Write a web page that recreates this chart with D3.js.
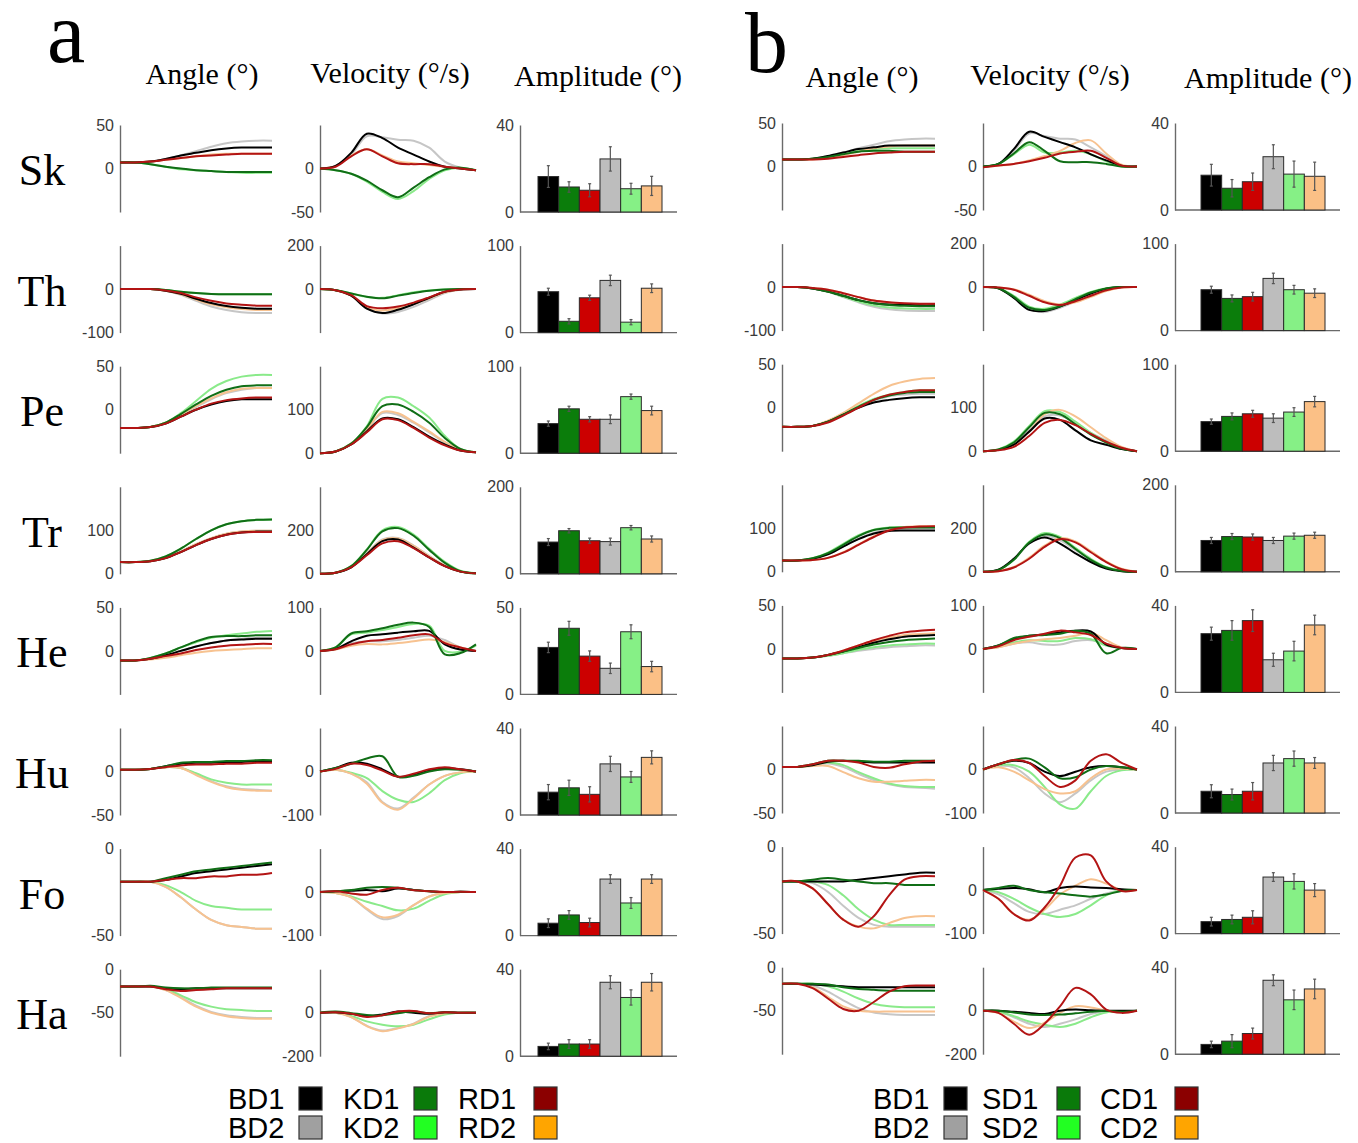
<!DOCTYPE html>
<html>
<head>
<meta charset="utf-8">
<script src="https://cdn.jsdelivr.net/npm/d3@7"></script>
<style>
  body { margin: 0; background: #fff; }
</style>
</head>
<body>
<div id="fig"></div>
<script>
// rows (body segments) and series, bar order = series order
const rows = ["Sk", "Th", "Pe", "Tr", "He", "Hu", "Fo", "Ha"];
const seriesA = ["BD1", "KD1", "RD1", "BD2", "KD2", "RD2"];
const seriesB = ["BD1", "SD1", "CD1", "BD2", "SD2", "CD2"];
const titles = ["Angle (°)", "Velocity (°/s)", "Amplitude (°)"];

// y domains and tick labels per row
const angleDomain = [[-50, 50], [-100, 100], [-50, 50], [0, 200], [-50, 50], [-50, 50], [-50, 0], [-100, 0]];
const angleTicks = [[0, 50], [-100, 0], [0, 50], [0, 100], [0, 50], [-50, 0], [-50, 0], [-50, 0]];
const velDomain = [[-50, 50], [-200, 200], [0, 200], [0, 400], [-100, 100], [-100, 100], [-100, 100], [-200, 200]];
const velTicks = [[-50, 0], [0, 200], [0, 100], [0, 200], [0, 100], [-100, 0], [-100, 0], [-200, 0]];
const ampMaxA = [40, 100, 100, 200, 50, 40, 40, 40];
const ampMaxB = [40, 100, 100, 200, 40, 40, 40, 40];

// mean traces, 11 samples over the movement, one array per series
const angleA = [
  [[7,7,8,11,15,18,21,23,24,24,24],[7,7,5,2,0,-2,-3,-4,-4,-4,-4],[7,7,8,10,12,14,15,16,17,17,17],
   [7,7,8,11,15,20,25,29,31,32,32],[7,7,5,2,-1,-2,-3,-4,-5,-5,-5],[7,7,8,10,12,14,16,17,17,17,17]],
  [[0,0,0,-4,-11,-22,-32,-39,-43,-45,-45],[0,0,0,-2,-6,-9,-11,-12,-12,-12,-12],[0,0,0,-3,-9,-19,-27,-33,-36,-38,-38],
   [0,0,0,-4,-13,-27,-40,-48,-53,-55,-55],[0,0,0,-2,-6,-9,-11,-12,-12,-12,-12],[0,0,0,-4,-12,-24,-35,-42,-46,-48,-48]],
  [[-21,-21,-20,-16,-8,0,6,10,12,12,12],[-21,-21,-20,-15,-5,6,16,23,27,28,28],[-21,-21,-20,-16,-8,0,7,11,13,14,14],
   [-21,-21,-20,-15,-6,3,12,19,23,25,25],[-21,-21,-20,-15,-4,10,24,33,38,40,40],[-21,-21,-20,-15,-6,4,13,20,24,25,25]],
  [[27,27,29,36,50,66,80,90,95,97,97],[27,27,30,40,58,80,100,114,121,124,125],[27,27,29,36,50,66,80,90,95,96,96],
   [27,27,29,36,52,68,82,92,97,99,99],[27,27,30,40,58,80,100,114,121,124,125],[27,27,29,36,51,68,82,92,97,99,99]],
  [[-11,-11,-9,-5,0,5,9,12,13,14,14],[-11,-11,-8,-3,4,11,16,17,17,18,18],[-11,-11,-9,-6,-3,1,4,6,7,8,8],
   [-11,-11,-9,-5,0,5,9,12,14,15,15],[-11,-11,-8,-3,4,10,15,18,20,22,23],[-11,-11,-10,-8,-5,-2,0,1,2,3,3]],
  [[2,2,3,6,9,10,10,11,11,12,12],[2,2,3,6,10,11,11,12,12,13,13],[2,2,3,5,7,8,8,9,9,10,10],
   [2,2,3,5,4,-3,-11,-17,-20,-21,-22],[2,2,3,5,4,-2,-9,-13,-15,-15,-15],[2,2,3,5,4,-4,-12,-18,-21,-22,-22]],
  [[-19,-19,-19,-18,-16,-14,-13,-12,-11,-10,-9],[-19,-19,-19,-17,-15,-13,-12,-11,-10,-9,-8],[-19,-19,-19,-18,-17,-17,-16,-16,-15,-15,-14],
   [-19,-19,-19,-22,-28,-35,-41,-44,-45,-46,-46],[-19,-19,-19,-21,-25,-30,-33,-34,-35,-35,-35],[-19,-19,-19,-22,-28,-35,-41,-44,-45,-46,-46]],
  [[-20,-20,-20,-22,-23,-22,-22,-22,-22,-22,-22],[-20,-20,-19,-21,-22,-22,-21,-21,-21,-21,-21],[-20,-20,-20,-23,-25,-24,-23,-22,-22,-22,-22],
   [-20,-20,-20,-24,-32,-42,-49,-53,-55,-56,-56],[-20,-20,-20,-23,-30,-38,-43,-46,-47,-48,-48],[-20,-20,-20,-24,-33,-43,-50,-54,-56,-57,-57]]
];
const velA = [
  [[0,3,18,40,35,24,16,8,2,0,-2],[0,-2,-6,-14,-25,-33,-22,-10,-1,1,-2],[0,2,14,22,14,6,5,5,2,0,-2],
   [0,3,16,37,36,33,32,24,8,1,-2],[0,-2,-6,-15,-27,-35,-26,-12,-2,1,-2],[0,3,15,22,15,8,6,4,2,0,-2]],
  [[0,-5,-30,-90,-110,-95,-70,-40,-12,-2,0],[0,-5,-20,-35,-42,-30,-18,-8,-2,0,0],[0,-5,-28,-78,-88,-80,-62,-38,-12,-2,0],
   [0,-5,-30,-88,-112,-105,-82,-50,-18,-3,0],[0,-5,-20,-36,-40,-28,-15,-6,-2,0,0],[0,-5,-30,-85,-98,-88,-68,-42,-15,-2,0]],
  [[0,4,20,50,80,78,60,38,20,6,2],[0,4,22,60,108,112,95,70,35,10,2],[0,4,20,48,78,76,58,36,18,6,2],
   [0,4,22,55,92,88,70,48,25,8,2],[0,4,22,62,125,128,108,82,40,10,2],[0,4,22,55,95,92,72,50,26,8,2]],
  [[0,5,30,90,150,158,120,75,35,10,2],[0,5,35,110,195,210,175,110,50,12,2],[0,5,30,85,140,150,118,75,35,10,2],
   [0,5,32,95,158,165,130,82,38,10,2],[0,5,35,112,200,215,180,115,55,14,2],[0,5,32,92,155,162,128,80,38,10,2]],
  [[0,5,22,35,38,42,45,46,15,3,0],[0,8,40,45,52,60,65,55,-8,-5,15],[0,4,15,22,25,30,36,38,18,8,0],
   [0,4,18,22,22,25,30,35,25,8,0],[0,8,38,42,48,55,62,58,0,-2,12],[0,3,12,16,15,18,22,26,20,8,0]],
  [[0,8,20,18,5,-12,-8,2,8,5,0],[0,8,18,30,35,-12,-10,0,5,4,0],[0,6,18,15,2,-12,-5,5,10,5,0],
   [0,4,-5,-25,-70,-85,-60,-30,-10,-2,0],[0,4,-3,-15,-45,-65,-70,-50,-20,-4,0],[0,4,-5,-28,-72,-88,-62,-30,-10,-2,0]],
  [[0,2,3,5,2,8,5,2,0,1,0],[0,2,5,10,12,10,5,2,0,1,0],[0,2,-3,-6,5,10,4,2,0,1,0],
   [0,-2,-12,-40,-62,-55,-30,-10,-2,0,0],[0,-2,-10,-22,-32,-42,-38,-20,-5,0,0],[0,-2,-12,-38,-58,-52,-30,-10,-2,0,0]],
  [[0,2,-5,-15,-8,5,0,-5,2,0,0],[0,5,-2,-10,-12,-2,5,-2,2,0,0],[0,2,-5,-20,-12,5,8,-3,2,0,0],
   [0,0,-20,-60,-82,-70,-50,-15,-3,0,0],[0,0,-15,-40,-55,-62,-55,-30,-8,0,0],[0,0,-20,-62,-85,-72,-52,-18,-3,0,0]]
];
const angleB = [
  [[8,8,9,12,16,20,22,24,24,24,24],[8,8,9,11,14,17,18,18,17,17,17],[8,8,8,9,11,13,15,16,17,17,17],
   [8,8,9,12,16,21,25,29,31,32,32],[8,8,9,11,14,18,20,21,21,21,21],[8,8,8,10,13,17,21,23,24,24,24]],
  [[0,0,-3,-10,-20,-30,-37,-40,-41,-42,-42],[0,0,-3,-10,-20,-30,-37,-41,-43,-44,-44],[0,0,-2,-6,-14,-23,-31,-35,-37,-38,-38],
   [0,0,-3,-11,-23,-35,-45,-51,-54,-55,-55],[0,0,-3,-11,-22,-33,-42,-47,-49,-50,-50],[0,0,-2,-6,-14,-23,-31,-36,-38,-39,-40]],
  [[-22,-22,-21,-16,-8,0,6,9,11,12,12],[-22,-22,-21,-16,-8,1,9,14,17,18,18],[-22,-22,-21,-17,-9,0,9,15,18,20,20],
   [-22,-22,-21,-16,-8,1,8,13,15,16,16],[-22,-22,-21,-16,-7,2,10,15,18,20,20],[-22,-22,-21,-15,-6,5,16,25,30,33,34]],
  [[26,26,30,40,58,75,88,94,95,95,95],[26,26,31,43,62,82,96,101,102,102,102],[26,26,27,32,44,62,80,95,102,104,105],
   [26,26,30,40,58,76,90,97,99,100,100],[26,26,31,44,64,84,97,102,103,103,103],[26,26,27,32,45,63,82,96,103,105,105]],
  [[-11,-11,-10,-7,-3,2,7,11,14,15,16],[-11,-11,-10,-7,-3,1,5,8,10,11,12],[-11,-11,-10,-7,-2,4,10,15,19,21,22],
   [-11,-11,-10,-8,-5,-2,0,2,3,4,4],[-11,-11,-10,-8,-5,-1,2,4,5,6,6],[-11,-11,-10,-7,-2,4,9,13,16,17,18]],
  [[3,3,5,9,10,9,8,8,8,8,8],[3,3,6,10,10,10,9,9,10,10,10],[3,3,6,10,10,8,3,2,6,9,10],
   [3,3,5,7,3,-5,-12,-17,-20,-21,-22],[3,3,5,8,5,-3,-10,-16,-19,-20,-20],[3,3,4,4,-3,-10,-14,-14,-13,-12,-12]],
  [[-20,-20,-20,-20,-20,-19,-18,-17,-16,-15,-15],[-20,-20,-19,-18,-19,-20,-21,-21,-22,-22,-22],[-20,-20,-24,-33,-42,-46,-40,-28,-19,-17,-17],
   [-20,-20,-21,-26,-34,-41,-45,-46,-46,-46,-46],[-20,-20,-20,-22,-28,-36,-42,-45,-45,-45,-45],[-20,-20,-24,-33,-42,-46,-47,-44,-41,-40,-40]],
  [[-19,-19,-20,-21,-22,-23,-23,-23,-23,-23,-23],[-19,-19,-19,-20,-23,-25,-26,-27,-27,-27,-27],[-19,-19,-24,-36,-48,-50,-40,-28,-22,-21,-21],
   [-19,-19,-21,-28,-38,-47,-52,-54,-55,-55,-55],[-19,-19,-19,-22,-28,-36,-42,-45,-46,-46,-46],[-19,-19,-23,-34,-45,-50,-51,-51,-51,-51,-51]]
];
const velB = [
  [[0,3,20,40,34,28,22,14,7,1,0],[0,3,15,28,18,6,5,5,3,0,0],[-1,1,3,6,10,15,17,18,10,1,0],
   [0,3,18,38,35,32,31,22,12,1,0],[0,3,14,25,16,16,18,14,6,0,0],[0,1,3,7,12,18,27,30,15,2,0]],
  [[0,-5,-50,-105,-110,-90,-60,-30,-8,0,0],[0,-5,-45,-95,-105,-88,-55,-25,-6,0,0],[0,-2,-12,-40,-70,-82,-65,-40,-15,-2,0],
   [0,-5,-45,-100,-115,-95,-65,-35,-10,0,0],[0,-5,-40,-90,-100,-80,-50,-22,-5,0,0],[0,-2,-10,-35,-65,-80,-70,-45,-18,-2,0]],
  [[0,3,15,45,75,72,48,25,15,5,0],[0,4,20,55,88,85,62,38,20,6,0],[0,2,10,35,65,72,60,40,22,8,0],
   [0,3,16,48,80,82,65,42,25,8,0],[0,4,22,58,92,90,68,42,22,6,0],[0,3,15,45,85,95,80,55,30,10,0]],
  [[0,10,60,130,158,130,85,45,15,3,0],[0,8,55,135,172,155,105,55,20,4,0],[0,3,20,60,115,150,135,90,45,12,0],
   [0,8,55,130,165,145,100,55,20,4,0],[0,8,55,138,178,160,110,60,22,5,0],[0,3,22,65,120,155,140,95,48,14,0]],
  [[0,8,22,30,33,38,42,40,10,2,0],[0,8,25,30,32,35,42,35,-10,2,0],[0,6,20,28,35,42,38,32,12,2,0],
   [0,4,12,15,10,10,18,20,12,4,0],[0,5,15,20,18,18,25,22,8,2,0],[0,4,12,18,22,25,30,38,20,3,0]],
  [[0,12,20,15,-5,-15,-5,5,8,5,0],[0,12,22,25,5,-20,-18,0,8,5,0],[0,12,22,15,-15,-40,-25,20,35,15,0],
   [0,8,5,-20,-55,-75,-55,-25,-5,0,0],[0,10,10,-5,-40,-80,-90,-50,-15,-2,0],[0,5,-5,-25,-45,-55,-50,-20,0,2,0]],
  [[0,3,5,2,-5,5,8,6,5,2,0],[0,5,10,0,-5,-8,-12,-15,-10,-2,0],[0,-20,-55,-70,-40,10,75,80,20,-2,0],
   [0,-10,-30,-50,-55,-45,-35,-20,-8,0,0],[0,-5,-20,-40,-55,-62,-55,-35,-12,0,0],[0,-20,-55,-68,-45,-10,10,25,15,0,0]],
  [[0,0,-5,-10,-15,0,5,2,0,0,0],[0,0,-8,-18,-20,-18,-12,-5,0,-5,0],[0,-10,-60,-110,-60,20,105,75,5,-10,0],
   [0,-5,-30,-60,-75,-60,-40,-15,-5,-5,0],[0,-5,-25,-50,-65,-75,-60,-30,-8,-3,0],[0,-10,-50,-80,-55,-10,20,15,0,-5,0]]
];

// amplitude means and error bars, per row, in series order
const ampA = [[16.3,11.5,10,24.4,10.7,12],[47,13,40,60,12,51],[34,51,39,39,65,49],[73,99,76,74,106,80],
              [27,38,22,15,36,16],[10.5,12.5,9.5,23.5,17.5,26.5],[5.7,9.5,6,26,15,26],[4.5,5.6,5.6,34,27,34]];
const errA = [[5,2.4,3,5.6,2.5,4.4],[4,3,3,6,3,5],[3,3,3,5,3,5],[8,5,6,8,5,7],
              [3,4,3,3,4,3],[3.5,3.5,3.5,3.5,2.5,3],[2,2,2,2,2.5,2],[1.5,2,2,3,3.5,4]];
const ampB = [[16,10,13,24.5,16.5,15.5],[47,37,39,60,47,43],[34,40,43,38,45,57],[72,81,80,72,82,84],
              [27,28.5,33,15,19,31],[10,8.5,10,23,25,23],[5.5,6.5,7.5,26,24,20],[4.5,6,9.5,34,25,30]];
const errB = [[5,4,4,5.5,6,6.5],[4,4,5,6,5,5],[3,4,4,5,5,6],[7,7,7,7,7,7],
              [3,4.5,5,3,4.5,4.5],[3,2.5,4,3.5,3.5,2.5],[2,2,3,2,3.5,3],[1.5,3,2.5,2.5,4.5,4.5]];

const lineColors = ["#000000", "#106e16", "#b31414", "#c6c6c6", "#8aea8a", "#f7c290"];
const barColors = ["#000000", "#0b7d0b", "#cc0000", "#bdbdbd", "#86f086", "#fbc086"];
const keyColors = ["#000000", "#0a7a0a", "#8b0000", "#a0a0a0", "#22ff22", "#ffa500"];
const drawOrder = [3, 4, 5, 0, 1, 2];

const width = 1358, height = 1143;
const rowStep = 120.6, plotH = 87;
const sans = "'Liberation Sans', Arial, sans-serif";
const serif = "'Liberation Serif', 'Times New Roman', serif";

const panels = [
  { label: "a", lx: 47, ly: 62, top: 125, series: seriesA, angle: angleA, vel: velA, amp: ampA, err: errA, ampMax: ampMaxA,
    angleX: [120, 272], velX: [320, 476], ampAxis: 520, barX: [538, 662], ampEnd: 677,
    titleX: [202, 390, 598], titleY: [84, 83, 86], rowLabels: true,
    keyText: [228, 343, 458], keyBox: [299, 414, 534] },
  { label: "b", lx: 745, ly: 72, top: 123, series: seriesB, angle: angleB, vel: velB, amp: ampB, err: errB, ampMax: ampMaxB,
    angleX: [782, 935], velX: [983, 1137], ampAxis: 1175, barX: [1201, 1325], ampEnd: 1340,
    titleX: [862, 1050, 1268], titleY: [87, 85, 88], rowLabels: false,
    keyText: [873, 982, 1100], keyBox: [944, 1057, 1175] }
];

const svg = d3.select("#fig").append("svg")
  .attr("width", width)
  .attr("height", height)
  .style("display", "block");

function styleAxis(g) {
  g.select(".domain").attr("stroke", "#6a6a6a").attr("stroke-width", 1.4);
  g.selectAll(".tick text")
    .attr("fill", "#3a3a3a")
    .style("font-family", sans)
    .style("font-size", "16px");
}

function tracePlot(g, xr, top, domain, ticks, curves) {
  let x = d3.scaleLinear().domain([0, 10]).range(xr);
  let y = d3.scaleLinear().domain(domain).range([top + plotH, top]);
  let line = d3.line()
    .x((d, i) => x(i))
    .y(d => y(d))
    .curve(d3.curveCatmullRom.alpha(0.5));

  g.append("g")
    .attr("transform", `translate(${xr[0]},0)`)
    .call(d3.axisLeft(y).tickValues(ticks).tickSize(0).tickSizeOuter(0).tickPadding(6).tickFormat(d => String(d)))
    .call(styleAxis);

  g.append("g").selectAll("path")
    .data(drawOrder)
    .enter()
    .append("path")
    .attr("d", k => line(curves[k]))
    .attr("fill", "none")
    .attr("stroke", k => lineColors[k])
    .attr("stroke-width", 2)
    .attr("stroke-linejoin", "round");
}

function barPlot(g, p, top, max, vals, errs) {
  let x = d3.scaleBand().domain(p.series).range(p.barX).padding(0);
  let y = d3.scaleLinear().domain([0, max]).range([top + plotH, top]);

  g.append("g")
    .attr("transform", `translate(${p.ampAxis},0)`)
    .call(d3.axisLeft(y).tickValues([0, max]).tickSize(0).tickSizeOuter(0).tickPadding(6).tickFormat(d => String(d)))
    .call(styleAxis);

  g.append("line")
    .attr("x1", p.ampAxis).attr("x2", p.ampEnd)
    .attr("y1", y(0)).attr("y2", y(0))
    .attr("stroke", "#6a6a6a").attr("stroke-width", 1.4);

  let bars = g.append("g").selectAll("g")
    .data(p.series)
    .enter()
    .append("g");

  bars.append("rect")
    .attr("x", d => x(d))
    .attr("width", x.bandwidth())
    .attr("y", (d, i) => y(vals[i]))
    .attr("height", (d, i) => y(0) - y(vals[i]))
    .attr("fill", (d, i) => barColors[i])
    .attr("stroke", "#2a2a2a")
    .attr("stroke-width", 1);

  let cx = d => x(d) + x.bandwidth() / 2;
  bars.append("line")
    .attr("x1", cx).attr("x2", cx)
    .attr("y1", (d, i) => y(vals[i] - errs[i]))
    .attr("y2", (d, i) => y(vals[i] + errs[i]))
    .attr("stroke", "#555").attr("stroke-width", 1.2);
  bars.append("line")
    .attr("x1", d => cx(d) - 1.5).attr("x2", d => cx(d) + 1.5)
    .attr("y1", (d, i) => y(vals[i] + errs[i]))
    .attr("y2", (d, i) => y(vals[i] + errs[i]))
    .attr("stroke", "#555").attr("stroke-width", 1.2);
  bars.append("line")
    .attr("x1", d => cx(d) - 1.5).attr("x2", d => cx(d) + 1.5)
    .attr("y1", (d, i) => y(vals[i] - errs[i]))
    .attr("y2", (d, i) => y(vals[i] - errs[i]))
    .attr("stroke", "#555").attr("stroke-width", 1.2);
}

panels.forEach(p => {
  let pg = svg.append("g");

  pg.append("text")
    .attr("x", p.lx).attr("y", p.ly)
    .style("font-family", serif)
    .style("font-size", "86px")
    .text(p.label);

  pg.selectAll(".title")
    .data(titles)
    .enter()
    .append("text")
    .attr("x", (d, i) => p.titleX[i])
    .attr("y", (d, i) => p.titleY[i])
    .attr("text-anchor", "middle")
    .style("font-family", serif)
    .style("font-size", "30px")
    .text(d => d);

  rows.forEach((r, ri) => {
    let top = p.top + ri * rowStep;
    let rg = pg.append("g");
    if (p.rowLabels) {
      rg.append("text")
        .attr("x", 42).attr("y", top + 60)
        .attr("text-anchor", "middle")
        .style("font-family", serif)
        .style("font-size", "44px")
        .text(r);
    }
    tracePlot(rg, p.angleX, top, angleDomain[ri], angleTicks[ri], p.angle[ri]);
    tracePlot(rg, p.velX, top, velDomain[ri], velTicks[ri], p.vel[ri]);
    barPlot(rg, p, top, p.ampMax[ri], p.amp[ri], p.err[ri]);
  });

  // key: two rows of three
  let key = pg.append("g").selectAll("g")
    .data(p.series)
    .enter()
    .append("g");
  key.append("text")
    .attr("x", (d, i) => p.keyText[i % 3])
    .attr("y", (d, i) => i < 3 ? 1109 : 1138)
    .style("font-family", sans)
    .style("font-size", "29px")
    .text(d => d);
  key.append("rect")
    .attr("x", (d, i) => p.keyBox[i % 3])
    .attr("y", (d, i) => i < 3 ? 1087 : 1116)
    .attr("width", 23).attr("height", 23)
    .attr("fill", (d, i) => keyColors[i])
    .attr("stroke", "#333")
    .attr("stroke-width", 1.2);
});
</script>
</body>
</html>
